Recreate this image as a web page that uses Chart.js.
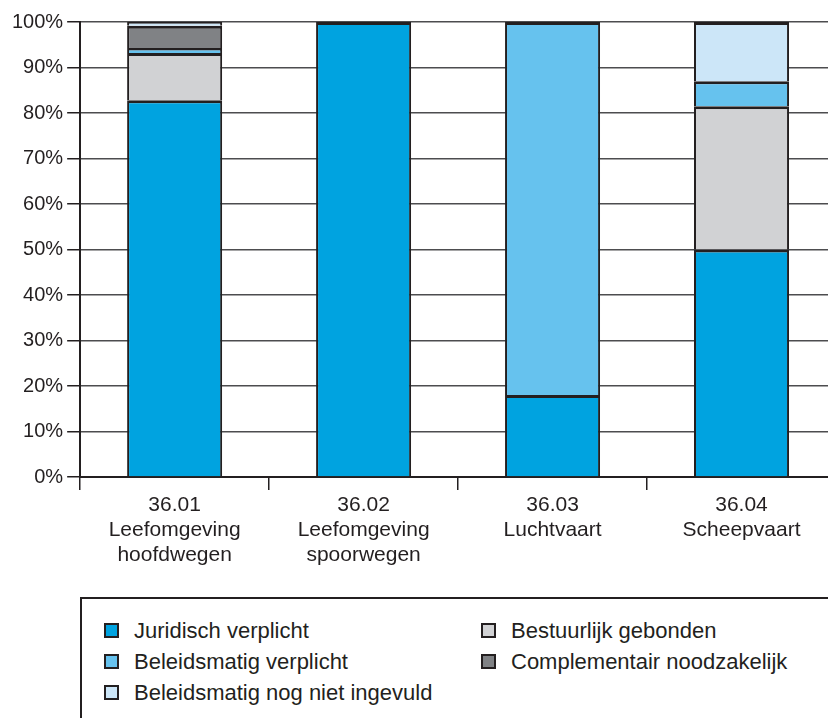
<!DOCTYPE html>
<html>
<head>
<meta charset="utf-8">
<script src="https://cdn.jsdelivr.net/npm/chart.js@4"></script>
<style>
  html, body { margin: 0; padding: 0; background: #fff; overflow: hidden; }
  body { width: 828px; height: 718px; position: relative; font-family: "Liberation Sans", Arial, sans-serif; color: #231f20; }
  #wrap { position: absolute; left: 0; top: 0; width: 850px; height: 590px; }
  #legend { position: absolute; left: 80px; top: 597px; width: 760px; height: 140px;
            border-left: 2px solid #231f20; border-top: 2px solid #231f20; }
  .item { position: absolute; font-size: 22px; line-height: 26px; white-space: nowrap; }
  .box { position: absolute; left: 0; top: 5px; width: 11px; height: 11px; border: 2px solid #231f20; }
  .item span { position: absolute; left: 30px; top: 0; }
</style>
</head>
<body>
<div id="wrap"><canvas id="chart" width="850" height="590"></canvas></div>
<div id="legend"></div>
<script>
// categories (multi-line labels)
const categories = [
    ['36.01', 'Leefomgeving', 'hoofdwegen'],
    ['36.02', 'Leefomgeving', 'spoorwegen'],
    ['36.03', 'Luchtvaart'],
    ['36.04', 'Scheepvaart']
];

// series, bottom to top in the stack (percent); null = not present
const juridisch = [82.8, 100, 18, 50];
const bestuurlijk = [10.4, null, null, 31.5];
const beleidsVerplicht = [1.1, null, 82, 5.5];
const complementair = [4.9, null, null, null];
const nogNiet = [0.8, null, null, 13];

const seriesNames = [
    'Juridisch verplicht',
    'Bestuurlijk gebonden',
    'Beleidsmatig verplicht',
    'Complementair noodzakelijk',
    'Beleidsmatig nog niet ingevuld'
];
const seriesColors = ['#00a3e0', '#d1d2d4', '#66c2ee', '#808285', '#cce6f8'];
const yTicks = [0, 10, 20, 30, 40, 50, 60, 70, 80, 90, 100];

const INK = '#231f20';
const allSeries = [juridisch, bestuurlijk, beleidsVerplicht, complementair, nogNiet];

const _datasets = allSeries.map((values, i) => {
    return {
        label: seriesNames[i],
        data: values,
        backgroundColor: seriesColors[i],
        borderColor: INK,
        borderWidth: { top: 3, right: 2, bottom: 0, left: 2 },
        borderSkipped: false,
        inflateAmount: 0,
        categoryPercentage: 1,
        barPercentage: 0.503
    };
});

const _config = {
    type: 'bar',
    data: { labels: categories, datasets: _datasets },
    options: {
        responsive: false,
        animation: false,
        layout: { padding: { left: 8, top: 22, right: 14, bottom: 19 } },
        plugins: {
            legend: { display: false },
            tooltip: { enabled: false }
        },
        scales: {
            x: {
                stacked: true,
                grid: {
                    display: true,
                    drawOnChartArea: false,
                    tickLength: 13,
                    color: INK,
                    lineWidth: 1.5,
                    offset: true
                },
                border: { display: true, color: INK, width: 2 },
                ticks: {
                    color: INK,
                    padding: 3,
                    font: { family: '"Liberation Sans", Arial, sans-serif', size: 21, lineHeight: 1.19 }
                }
            },
            y: {
                stacked: true,
                min: 0,
                max: 100,
                afterBuildTicks: (axis) => { axis.ticks = yTicks.map((v) => ({ value: v })); },
                grid: {
                    color: '#4d4d4f',
                    lineWidth: 1.5,
                    tickLength: 13,
                    tickColor: INK
                },
                border: { display: true, color: INK, width: 2 },
                ticks: {
                    color: INK,
                    padding: 4,
                    font: { family: '"Liberation Sans", Arial, sans-serif', size: 20 },
                    callback: (v) => v + '%'
                }
            }
        }
    }
};

const chart = new Chart(document.getElementById('chart'), _config);

// legend, two columns filled row by row
const _legend = document.getElementById('legend');
seriesNames.forEach((name, i) => {
    const col = i % 2;
    const row = Math.floor(i / 2);
    const item = document.createElement('div');
    item.className = 'item';
    item.style.left = (col === 0 ? 22 : 399) + 'px';
    item.style.top = (19 + row * 31) + 'px';
    const box = document.createElement('div');
    box.className = 'box';
    box.style.background = seriesColors[i];
    const text = document.createElement('span');
    text.textContent = name;
    item.appendChild(box);
    item.appendChild(text);
    _legend.appendChild(item);
});
</script>
</body>
</html>
